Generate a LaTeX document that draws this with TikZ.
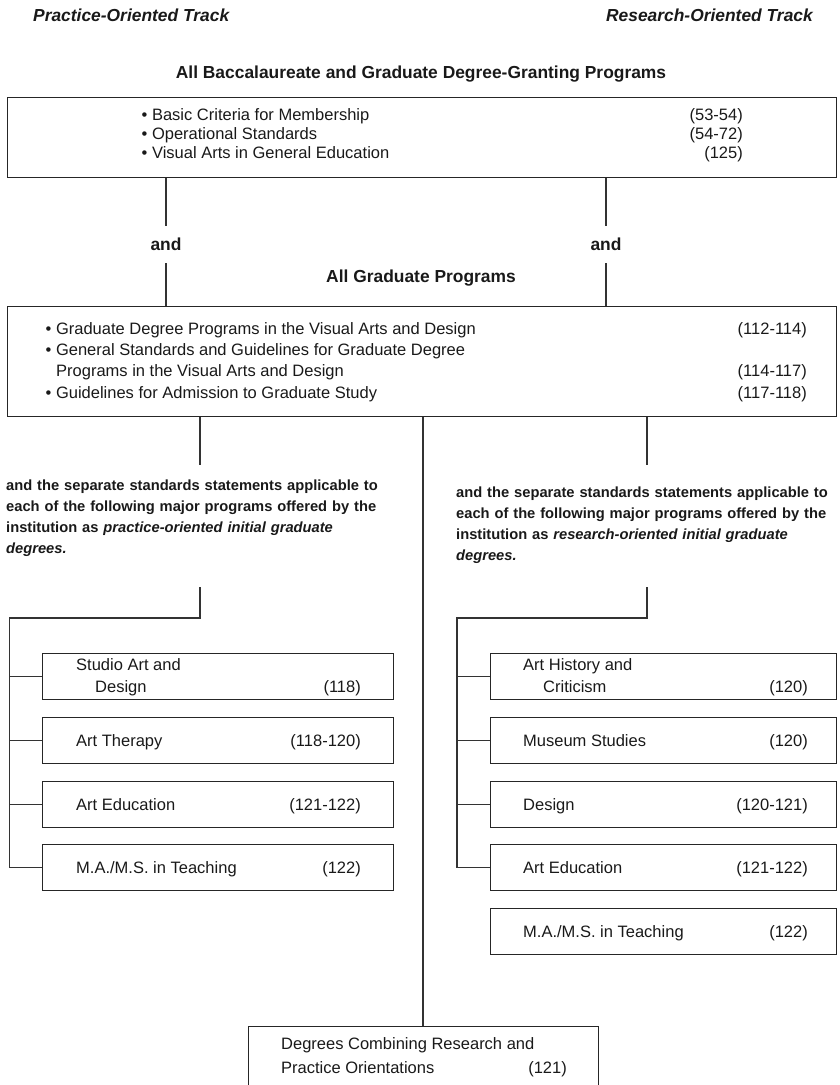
\documentclass[tikz,border=0pt]{standalone}
\usepackage{fontspec}
\setmainfont{Liberation Sans}
\usetikzlibrary{positioning,calc}

\tikzset{
	box/.style={draw=black!85,line width=1.3pt,rectangle,anchor=north west,inner sep=0pt},
	conn/.style={draw=black!80,line width=1.1pt},
	itm/.style={anchor=base west,inner sep=0pt,text=black!90,font=\fontsize{16.5}{19}\selectfont},
	pg/.style={anchor=base east,inner sep=0pt,text=black!90,font=\fontsize{16.5}{19}\selectfont},
	head/.style={inner sep=0pt,text=black!90,font=\fontsize{17.4}{20}\selectfont\bfseries},
	track/.style={inner sep=0pt,text=black!90,font=\fontsize{17.4}{20}\selectfont\bfseries\itshape},
	para/.style={anchor=base west,inner sep=0pt,align=left,text width=390pt,text=black!90,
		font=\fontsize{14.7}{21}\selectfont\bfseries},
}

\begin{document}
\begin{tikzpicture}[x=1pt,y=-1pt]
	\useasboundingbox (0,0) rectangle (839,1085);

	\node[track,anchor=base west] (ptrack) at (33,21) {Practice-Oriented Track};
	\node[track,anchor=base east] (rtrack) at (813,21) {Research-Oriented Track};
	\node[head,anchor=base] (allbacc) at (421,78) {All Baccalaureate and Graduate Degree-Granting Programs};

	\node[box,minimum width=829pt,minimum height=80pt] (bacc) at (7,97) {};
	\node[itm] (b1) at (141.5,120) {•\ Basic Criteria for Membership};
	\node[itm] (b2) at (141.5,139) {•\ Operational Standards};
	\node[itm] (b3) at (141.5,158) {•\ Visual Arts in General Education};
	\node[pg] (b1p) at (743,120) {(53-54)};
	\node[pg] (b2p) at (743,139) {(54-72)};
	\node[pg] (b3p) at (743,158) {(125)};

	\node[head,anchor=base] (andl) at (166,250) {and};
	\node[head,anchor=base] (andr) at (606,250) {and};
	\node[head,anchor=base] (allgrad) at (421,282) {All Graduate Programs};

	\node[box,minimum width=829pt,minimum height=110pt] (grad) at (7,306) {};
	\node[itm] (g1) at (45.5,334) {•\ Graduate Degree Programs in the Visual Arts and Design};
	\node[itm] (g2) at (45.5,355) {•\ General Standards and Guidelines for Graduate Degree};
	\node[itm] (g3) at (56,376) {Programs in the Visual Arts and Design};
	\node[itm] (g4) at (45.5,398) {•\ Guidelines for Admission to Graduate Study};
	\node[pg] (g1p) at (807,334) {(112-114)};
	\node[pg] (g3p) at (807,376) {(114-117)};
	\node[pg] (g4p) at (807,398) {(117-118)};

	\draw[conn] (bacc.south -| andl) -- ++(0,48);
	\draw[conn] (andl.south) ++(0,13) -- (grad.north -| andl);
	\draw[conn] (bacc.south -| andr) -- ++(0,48);
	\draw[conn] (andr.south) ++(0,13) -- (grad.north -| andr);

	\node[para] (ppara) at (6,490) {and the separate standards statements applicable to\\
		each of the following major programs offered by the\\
		institution as \textit{practice-oriented initial graduate}\\
		\textit{degrees.}};
	\node[para] (rpara) at (456,497) {and the separate standards statements applicable to\\
		each of the following major programs offered by the\\
		institution as \textit{research-oriented initial graduate}\\
		\textit{degrees.}};

	\coordinate (ptop) at (200,587);
	\coordinate (pspine) at (9.5,618);
	\coordinate (rtop) at (647,587);
	\coordinate (rspine) at (457,618);

	\draw[conn] (grad.south -| ptop) -- ++(0,48);
	\draw[conn] (grad.south -| rtop) -- ++(0,48);

	\node[box,minimum width=351pt,minimum height=46pt] (studio) at (42,653) {};
	\node[box,minimum width=351pt,minimum height=46pt] (therapy) at (42,717) {};
	\node[box,minimum width=351pt,minimum height=46pt] (pedu) at (42,781) {};
	\node[box,minimum width=351pt,minimum height=46pt] (pteach) at (42,844) {};
	\node[itm] (studio1) at (76,670) {Studio Art and};
	\node[itm] (studio2) at (95,692) {Design};
	\node[pg] (studiop) at (361,692) {(118)};
	\node[itm] (therapy1) at (76,746) {Art Therapy};
	\node[pg] (therapyp) at (361,746) {(118-120)};
	\node[itm] (pedu1) at (76,810) {Art Education};
	\node[pg] (pedup) at (361,810) {(121-122)};
	\node[itm] (pteach1) at (76,873) {M.A./M.S. in Teaching};
	\node[pg] (pteachp) at (361,873) {(122)};

	\node[box,minimum width=346pt,minimum height=46pt] (hist) at (490,653) {};
	\node[box,minimum width=346pt,minimum height=46pt] (museum) at (490,717) {};
	\node[box,minimum width=346pt,minimum height=46pt] (design) at (490,781) {};
	\node[box,minimum width=346pt,minimum height=46pt] (redu) at (490,844) {};
	\node[box,minimum width=346pt,minimum height=46pt] (rteach) at (490,908) {};
	\node[itm] (hist1) at (523,670) {Art History and};
	\node[itm] (hist2) at (543,692) {Criticism};
	\node[pg] (histp) at (808,692) {(120)};
	\node[itm] (museum1) at (523,746) {Museum Studies};
	\node[pg] (museump) at (808,746) {(120)};
	\node[itm] (design1) at (523,810) {Design};
	\node[pg] (designp) at (808,810) {(120-121)};
	\node[itm] (redu1) at (523,873) {Art Education};
	\node[pg] (redup) at (808,873) {(121-122)};
	\node[itm] (rteach1) at (523,937) {M.A./M.S. in Teaching};
	\node[pg] (rteachp) at (808,937) {(122)};

	\draw[conn] (ptop) |- (pspine) -- (pspine |- pteach.west);
	\foreach \b in {studio,therapy,pedu,pteach}
		\draw[conn] (pspine |- \b.west) -- (\b.west);
	\draw[conn] (rtop) |- (rspine) -- (rspine |- redu.west);
	\foreach \b in {hist,museum,design,redu}
		\draw[conn] (rspine |- \b.west) -- (\b.west);

	\node[box,minimum width=350pt,minimum height=70pt] (combo) at (248,1026) {};
	\node[itm] (combo1) at (281,1049) {Degrees Combining Research and};
	\node[itm] (combo2) at (281,1073) {Practice Orientations};
	\node[pg] (combop) at (567,1073) {(121)};
	\draw[conn] (grad.south -| 423,0) -- (combo.north -| 423,0);
\end{tikzpicture}
\end{document}
